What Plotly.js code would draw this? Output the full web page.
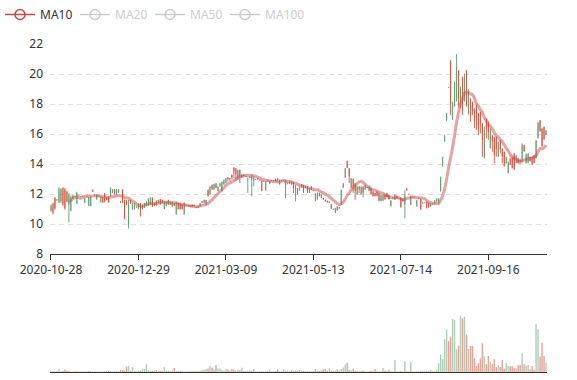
<!DOCTYPE html>
<html>
<head>
<meta charset="utf-8">
<script src="https://cdn.plot.ly/plotly-3.0.1.min.js"></script>
<style>html,body{margin:0;padding:0;background:#fff;}#chart{width:577px;height:380px;}</style>
</head>
<body>
<div id="chart"></div>
<script>
const dates = [
"2020-10-28","2020-10-29","2020-10-30",
"2020-11-02","2020-11-03","2020-11-04","2020-11-05","2020-11-06","2020-11-09","2020-11-10","2020-11-11","2020-11-12","2020-11-13",
"2020-11-16","2020-11-17","2020-11-18","2020-11-19","2020-11-20","2020-11-23","2020-11-24","2020-11-25","2020-11-26","2020-11-27","2020-11-30",
"2020-12-01","2020-12-02","2020-12-03","2020-12-04","2020-12-07","2020-12-08","2020-12-09","2020-12-10","2020-12-11",
"2020-12-14","2020-12-15","2020-12-16","2020-12-17","2020-12-18","2020-12-21","2020-12-22","2020-12-23","2020-12-24","2020-12-25",
"2020-12-28","2020-12-29","2020-12-30","2020-12-31",
"2021-01-04","2021-01-05","2021-01-06","2021-01-07","2021-01-08","2021-01-11","2021-01-12","2021-01-13","2021-01-14","2021-01-15",
"2021-01-18","2021-01-19","2021-01-20","2021-01-21","2021-01-22","2021-01-25","2021-01-26","2021-01-27","2021-01-28","2021-01-29",
"2021-02-01","2021-02-02","2021-02-03","2021-02-04","2021-02-05","2021-02-08","2021-02-09","2021-02-10","2021-02-18","2021-02-19",
"2021-02-22","2021-02-23","2021-02-24","2021-02-25","2021-02-26",
"2021-03-01","2021-03-02","2021-03-03","2021-03-04","2021-03-05","2021-03-08","2021-03-09","2021-03-10","2021-03-11","2021-03-12",
"2021-03-15","2021-03-16","2021-03-17","2021-03-18","2021-03-19","2021-03-22","2021-03-23","2021-03-24","2021-03-25","2021-03-26",
"2021-03-29","2021-03-30","2021-03-31","2021-04-01","2021-04-02",
"2021-04-05","2021-04-06","2021-04-07","2021-04-08","2021-04-09","2021-04-12","2021-04-13","2021-04-14","2021-04-15","2021-04-16",
"2021-04-19","2021-04-20","2021-04-21","2021-04-22","2021-04-23","2021-04-26","2021-04-27","2021-04-28","2021-04-29","2021-04-30",
"2021-05-06","2021-05-07","2021-05-10","2021-05-11","2021-05-12","2021-05-13","2021-05-14",
"2021-05-17","2021-05-18","2021-05-19","2021-05-20","2021-05-21","2021-05-24","2021-05-25","2021-05-26","2021-05-27","2021-05-28","2021-05-31",
"2021-06-01","2021-06-02","2021-06-03","2021-06-04","2021-06-07","2021-06-08","2021-06-09","2021-06-10","2021-06-11",
"2021-06-14","2021-06-15","2021-06-16","2021-06-17","2021-06-18","2021-06-21","2021-06-22","2021-06-23","2021-06-24","2021-06-25",
"2021-06-28","2021-06-29","2021-06-30","2021-07-01","2021-07-02",
"2021-07-05","2021-07-06","2021-07-07","2021-07-08","2021-07-09","2021-07-12","2021-07-13","2021-07-14","2021-07-15","2021-07-16",
"2021-07-19","2021-07-20","2021-07-21","2021-07-22","2021-07-23","2021-07-26","2021-07-27","2021-07-28","2021-07-29","2021-07-30",
"2021-08-02","2021-08-03","2021-08-04","2021-08-05","2021-08-06","2021-08-09","2021-08-10","2021-08-11","2021-08-12","2021-08-13",
"2021-08-16","2021-08-17","2021-08-18","2021-08-19","2021-08-20","2021-08-23","2021-08-24","2021-08-25","2021-08-26","2021-08-27",
"2021-08-30","2021-08-31","2021-09-01","2021-09-02","2021-09-03",
"2021-09-06","2021-09-07","2021-09-08","2021-09-09","2021-09-10","2021-09-15","2021-09-16","2021-09-17",
"2021-09-22","2021-09-23","2021-09-24","2021-09-27","2021-09-28","2021-09-29","2021-09-30",
"2021-10-08","2021-10-11","2021-10-12","2021-10-13","2021-10-14","2021-10-15",
"2021-10-18","2021-10-19","2021-10-20","2021-10-21","2021-10-22","2021-10-25","2021-10-26","2021-10-27","2021-10-28","2021-10-29",
"2021-11-01","2021-11-02","2021-11-03","2021-11-04","2021-11-05"
];

const tickLabels = ["2020-10-28","2020-12-29","2021-03-09","2021-05-13","2021-07-14","2021-09-16"];

const openPrices = [
10.9,11.35,11.72,11.62,11.45,11.5,12.4,12.3,12.15,11.3,
10.9,11.7,11.85,11.4,11.9,11.8,11.88,11.42,11.8,11.22,
11.2,12.28,11.95,11.64,11.9,11.46,11.78,12.05,11.78,11.82,
11.86,12.08,12.3,11.98,12.08,11.5,12.3,11.6,11.55,9.9,
11.6,10.98,11.0,11.08,11.02,11.38,10.98,11.08,11.2,11.24,
11.3,11.75,11.2,11.55,11.42,11.65,11.6,11.02,11.2,11.6,
11.3,11.15,11.38,10.65,11.38,11.38,11.3,10.65,11.25,11.18,
11.22,11.28,11.27,11.12,11.08,11.2,11.5,11.42,11.3,12.27,
11.98,12.6,12.3,12.7,12.2,12.5,12.2,12.64,12.75,13.1,
13.05,13.27,13.75,13.7,12.98,13.6,13.08,13.28,13.2,12.95,
13.18,12.95,12.9,13.0,13.06,12.95,12.87,12.85,12.25,12.86,
12.68,12.92,12.86,13.0,13.05,12.64,12.9,12.86,12.94,12.7,
12.68,12.82,12.78,12.2,12.38,12.24,12.42,12.6,12.41,12.49,
12.08,12.5,12.25,11.53,11.64,12.06,11.95,11.72,11.6,11.55,
11.41,11.32,11.0,10.75,11.17,11.05,11.3,12.42,13.1,14.2,
13.7,12.42,13.0,12.7,11.98,12.5,11.98,12.5,12.3,12.45,
12.2,12.38,12.16,12.06,12.16,12.05,11.53,11.56,11.94,12.05,
11.94,11.2,11.75,11.62,11.88,11.7,11.74,11.7,11.3,12.37,
12.0,11.3,11.85,11.8,11.18,11.7,11.65,11.4,11.42,11.47,
11.42,11.17,11.35,11.39,11.5,11.4,12.2,13.85,15.5,16.9,
19.13,20.9,16.95,17.85,18.2,20.2,17.75,19.8,18.2,20.2,
17.35,18.35,18.1,17.7,17.9,17.35,17.45,16.7,14.4,17.0,
16.8,15.06,15.9,15.8,15.8,14.5,15.58,15.0,14.8,14.06,
13.4,14.36,14.47,14.7,14.06,14.36,14.3,14.18,15.25,14.06,
14.08,14.47,14.47,14.58,14.4,15.73,16.9,16.35,16.47,15.95
];
const highPrices = [
11.3,11.42,11.8,11.65,12.45,12.4,12.45,12.4,12.22,12.07,
11.9,11.96,11.88,12.16,11.92,11.86,11.9,11.73,11.85,11.8,
11.84,12.29,11.98,11.96,11.92,11.84,11.8,12.07,11.8,11.84,
12.44,12.33,12.33,12.33,12.33,11.52,12.33,11.62,11.6,11.6,
11.62,11.4,11.4,11.18,11.4,11.4,11.29,11.4,11.51,11.73,
11.78,11.78,11.4,11.56,11.62,11.67,11.62,11.51,11.51,11.62,
11.51,11.51,11.4,11.44,11.4,11.4,11.33,11.44,11.28,11.25,
11.24,11.29,11.29,11.15,11.18,11.4,11.51,11.62,11.62,12.29,
12.51,12.62,12.69,12.73,12.51,12.73,12.84,12.96,13.07,13.13,
13.07,13.29,13.78,13.73,13.62,13.62,13.33,13.29,13.22,13.11,
13.18,13.29,13.18,13.02,13.07,12.97,12.89,12.88,12.84,12.9,
12.89,12.93,12.92,13.02,13.07,12.96,12.92,12.9,12.96,12.75,
12.84,12.84,12.8,12.62,12.4,12.51,12.67,12.62,12.51,12.51,
12.4,12.51,12.27,12.07,12.11,12.07,11.96,11.73,11.62,11.56,
11.51,11.33,11.02,11.07,11.18,11.15,12.29,12.73,13.73,14.22,
13.73,13.07,13.02,12.73,12.51,12.51,12.51,12.51,12.62,12.48,
12.51,12.4,12.18,12.07,12.18,12.07,11.96,11.96,11.96,12.07,
11.96,11.6,11.8,11.98,11.89,11.72,11.76,11.71,12.27,12.38,
12.02,11.89,11.88,11.84,11.6,11.75,11.67,11.45,11.46,11.49,
11.44,11.38,11.38,11.6,11.71,11.71,13.16,14.47,15.9,17.38,
19.13,20.93,18.16,19.49,21.33,20.27,19.16,19.82,20.04,20.27,
19.0,18.38,18.16,17.71,17.93,17.38,17.49,16.71,16.49,17.04,
16.82,16.38,15.93,15.82,15.82,15.49,15.6,15.04,14.82,14.49,
14.16,14.38,14.49,14.71,14.6,14.38,14.35,15.38,15.27,14.71,
14.71,14.49,14.49,14.6,15.6,16.82,16.93,16.38,16.49,16.27
];
const lowPrices = [
10.82,10.65,10.95,11.55,11.4,11.4,11.22,10.95,11.44,10.1,
10.84,11.67,11.8,11.33,11.85,11.78,11.82,11.4,11.78,11.2,
11.18,12.13,11.9,11.62,11.85,11.44,11.4,11.44,11.58,11.4,
11.84,12.07,11.96,11.96,12.07,11.4,11.4,10.3,11.25,9.7,
11.33,10.96,10.95,11.06,11.0,10.5,10.96,11.06,11.18,11.22,
11.28,11.13,11.18,11.22,11.4,11.29,11.4,11.0,11.18,11.29,
11.29,11.13,11.18,10.62,10.96,10.96,10.96,10.62,11.2,11.16,
11.15,11.13,11.18,11.08,11.07,11.18,11.4,11.4,11.29,11.84,
11.96,12.29,12.29,12.4,12.18,12.5,12.18,12.62,12.73,12.84,
12.84,12.96,13.07,12.84,12.96,12.73,13.07,13.18,13.15,12.07,
13.07,11.84,12.51,12.95,12.96,12.9,12.18,12.8,12.22,12.84,
12.67,12.88,12.85,12.84,12.84,12.62,12.85,12.84,11.73,12.65,
12.67,12.62,12.07,11.51,11.96,12.22,12.4,12.07,12.4,12.07,
12.07,12.29,12.2,11.51,11.62,11.84,11.73,11.62,11.5,11.44,
11.4,11.0,10.95,10.73,10.89,11.0,11.29,12.4,13.07,13.73,
12.73,12.4,12.07,11.62,11.96,12.07,11.96,11.78,12.29,12.4,
12.18,11.96,11.84,11.84,11.84,11.51,11.51,11.55,11.62,11.78,
11.62,11.16,11.7,11.6,11.71,11.65,11.09,11.49,10.38,12.22,
11.95,11.27,11.8,11.76,11.16,11.68,10.93,11.35,11.38,11.04,
11.09,11.16,11.3,11.38,11.49,11.38,12.16,13.82,15.49,16.89,
19.1,17.27,16.93,17.82,18.16,17.82,17.71,17.27,18.16,17.82,
17.3,16.82,17.27,16.38,16.27,15.93,16.04,14.49,14.38,15.71,
15.6,15.04,14.82,14.04,14.49,14.49,14.71,14.04,13.82,14.04,
13.38,13.93,13.71,13.6,14.04,14.04,14.1,14.16,14.82,14.04,
14.04,14.16,13.93,14.04,14.38,15.71,16.16,15.16,15.6,15.93
];
const closePrices = [
11.22,10.75,11.05,11.6,12.35,12.3,11.3,11.05,11.5,11.95,
11.8,11.9,11.82,12.1,11.87,11.84,11.84,11.7,11.83,11.75,
11.8,12.15,11.93,11.93,11.88,11.8,11.42,11.5,11.6,11.45,
12.4,12.3,12.0,12.3,12.3,11.42,11.45,10.4,11.35,11.3,
11.35,11.35,11.3,11.15,11.35,10.95,11.25,11.38,11.48,11.7,
11.75,11.2,11.38,11.25,11.6,11.32,11.42,11.48,11.48,11.32,
11.48,11.48,11.2,11.4,11.0,11.0,11.0,11.4,11.22,11.23,
11.17,11.15,11.2,11.1,11.16,11.38,11.42,11.6,11.6,11.87,
12.48,12.31,12.66,12.42,12.48,12.7,12.8,12.93,13.04,13.0,
13.0,13.1,13.5,13.3,13.58,13.2,13.3,13.2,13.17,13.05,
13.08,13.15,13.1,12.97,12.97,12.92,12.22,12.86,12.8,12.88,
12.87,12.89,12.91,12.86,12.86,12.93,12.87,12.88,12.6,12.68,
12.82,12.64,12.4,12.55,12.0,12.48,12.64,12.1,12.5,12.1,
12.38,12.3,12.22,12.0,12.08,11.86,11.75,11.63,11.52,11.45,
11.5,11.03,10.97,11.05,10.91,11.12,12.25,12.7,13.7,13.75,
13.2,13.03,12.5,12.2,12.48,12.3,12.48,12.1,12.6,12.42,
12.48,12.0,11.86,11.86,11.88,11.56,11.92,11.92,11.65,11.8,
11.66,11.55,11.72,11.95,11.73,11.68,11.12,11.5,11.9,12.24,
11.97,11.85,11.82,11.82,11.57,11.72,10.98,11.38,11.44,11.08,
11.12,11.36,11.32,11.58,11.68,11.7,13.12,14.45,15.9,17.38,
19.1,18.0,18.1,19.4,20.5,18.3,19.0,17.6,19.9,18.0,
18.9,17.2,17.5,17.0,16.9,16.6,16.7,15.6,16.3,16.3,
16.1,16.3,15.5,14.6,15.0,15.45,15.0,14.5,13.88,14.45,
14.1,13.96,13.75,13.65,14.55,14.06,14.15,15.3,14.85,14.65,
14.68,14.2,13.98,14.08,15.55,16.75,16.2,15.2,15.65,16.2
];
const volumes = [
0.5,0.6,0.5,0.8,3,0.8,1.0,2.6,1.3,1.0,
0.6,0.5,0.4,0.8,0.5,0.4,0.6,0.5,0.4,1.0,
0.8,0.5,0.4,0.6,0.5,0.4,0.5,0.6,0.8,1.0,
0.8,0.6,0.5,0.7,0.6,2,2,1.2,5.2,5.9,
1.2,4.9,1.0,0.8,1.2,1.5,2.6,3,7.8,2,
1.2,1.0,1.3,2,1.0,1.2,1.0,4.9,1.5,1.3,
1.0,1.2,3.9,1.0,0.8,1.0,0.7,0.6,0.5,0.6,
0.8,0.6,0.7,0.8,1.0,1.3,1.8,2.3,3.0,3.6,
5.9,4.2,2.6,6.9,3.6,3.6,2.0,1.3,3.0,2.6,
1.3,3.0,2.3,1.3,2.6,2.0,4.2,1.0,0.8,1.3,
1.3,1.3,3.0,0.5,0.6,0.4,0.8,0.5,0.6,0.8,
2.3,0.6,0.5,0.8,2.6,0.8,0.6,2.6,1.0,0.7,
0.8,1.6,1.2,1.5,1.0,2.0,1.2,1.0,0.8,0.6,
0.8,0.6,1.0,3.0,1.2,1.0,1.5,2.6,3.0,1.2,
3.6,1.5,1.0,1.2,2.6,1.5,3.0,4.6,7.5,9.2,
2.0,1.8,3.3,1.3,1.0,0.8,1.0,1.2,0.8,0.6,
0.7,1.0,0.8,3.0,0.8,0.6,0.8,3.9,1.2,0.8,
2.0,0.7,0.5,11.8,0.6,0.5,1.0,0.6,10.8,0.8,
0.6,10.1,0.5,0.6,0.8,0.6,1.0,0.8,0.8,0.8,
0.8,2.0,0.6,1.0,2.3,8.7,17.7,13,32.7,42.7,
31,35.3,53,52,22.7,26.3,56.3,53.7,55.3,37.7,
23,26,26,13.7,6,8.7,13.7,28.7,16,7.7,
16,10.3,8,12.7,5,7,5,12,3.3,8.7,
6,6,5.7,4.3,3.7,7,7,18.7,7.7,6.3,
7,2.7,6,2,47.7,42.7,15.3,29.3,16,9.3
];

const UP = '#5f9f74', DOWN = '#d6553f';
const UP_VOL = 'rgba(95,159,116,0.5)', DOWN_VOL = 'rgba(214,85,63,0.55)';

function movingAverage(n) {
  const out = [];
  for (let i = 0; i < closePrices.length; i++) {
    if (i < n - 1) { out.push(null); continue; }
    let s = 0;
    for (let j = i - n + 1; j <= i; j++) s += closePrices[j];
    out.push(+(s / n).toFixed(3));
  }
  return out;
}

const volColors = closePrices.map((c, i) => c >= openPrices[i] ? UP_VOL : DOWN_VOL);
const grey = '#9a9a9a';
function legendOnly(n) {
  return {
    type: 'scatter', mode: 'lines+markers', x: dates, y: movingAverage(n), xaxis: 'x', yaxis: 'y',
    name: '<span style="color:' + grey + '">MA' + n + '</span>', visible: 'legendonly',
    line: {color: grey, width: 1.5}, marker: {symbol: 'circle-open', size: 10, color: grey, line: {width: 1.5}}
  };
}

const traces = [
  {
    type: 'candlestick', x: dates, open: openPrices, high: highPrices, low: lowPrices, close: closePrices,
    xaxis: 'x', yaxis: 'y', showlegend: false, hoverinfo: 'skip', whiskerwidth: 0,
    increasing: {line: {color: UP, width: 0.9}, fillcolor: UP},
    decreasing: {line: {color: DOWN, width: 0.9}, fillcolor: DOWN}
  },
  {
    type: 'scatter', mode: 'lines', x: dates, y: movingAverage(10), xaxis: 'x', yaxis: 'y',
    line: {color: 'rgba(208,70,70,0.5)', width: 3, shape: 'spline', smoothing: 1},
    showlegend: false, hoverinfo: 'skip', connectgaps: false
  },
  {
    type: 'scatter', mode: 'lines+markers', x: [null], y: [null], xaxis: 'x', yaxis: 'y', name: 'MA10',
    line: {color: '#cf4545', width: 1.5}, marker: {symbol: 'circle-open', size: 10, color: '#cf4545', line: {width: 1.5}}
  },
  legendOnly(20),
  legendOnly(50),
  legendOnly(100),
  {
    type: 'scatter', mode: 'none', x: [null], y: [null], xaxis: 'x', yaxis: 'y', name: '\u00a0', hoverinfo: 'skip'
  },
  {
    type: 'bar', x: dates, y: volumes, xaxis: 'x2', yaxis: 'y2', showlegend: false, hoverinfo: 'skip',
    marker: {color: volColors, line: {width: 0}}
  }
];

const layout = {
  width: 577, height: 380,
  margin: {l: 50, r: 30, t: 0, b: 0, autoexpand: false},
  paper_bgcolor: '#fff', plot_bgcolor: '#fff',
  font: {family: '"Noto Sans", "Open Sans", sans-serif', size: 12, color: '#333'},
  showlegend: true,
  legend: {
    orientation: 'h', xref: 'container', yref: 'container', x: 0, y: 1, xanchor: 'left', yanchor: 'top',
    font: {size: 12, color: '#333'}, entrywidth: 30, bgcolor: 'rgba(0,0,0,0)', itemclick: false, itemdoubleclick: false
  },
  boxgap: 0.9,
  bargap: 0.28,
  xaxis: {
    type: 'category', domain: [0, 1], anchor: 'y', range: [-0.5, dates.length - 0.5],
    tickmode: 'array', tickvals: tickLabels, ticktext: tickLabels,
    showgrid: false, showline: true, linecolor: '#333', linewidth: 1,
    ticks: 'outside', ticklen: 5, tickcolor: '#333', tickfont: {size: 12, color: '#333'},
    rangeslider: {visible: false}, zeroline: false, fixedrange: true
  },
  yaxis: {
    domain: [126 / 380, 336 / 380], range: [8, 22], dtick: 2, tick0: 8,
    showgrid: true, gridcolor: '#e0e0e0', griddash: '5px,4px', gridwidth: 1,
    zeroline: false, showline: false, ticks: '', ticklabelstandoff: 6,
    tickfont: {size: 12, color: '#333'}, fixedrange: true
  },
  xaxis2: {
    type: 'category', domain: [0, 1], anchor: 'y2', range: [-0.5, dates.length - 0.5],
    showticklabels: false, showgrid: false, showline: true, linecolor: '#333', linewidth: 1,
    ticks: '', zeroline: false, fixedrange: true
  },
  yaxis2: {
    domain: [8 / 380, 68 / 380], range: [0, 60],
    showticklabels: false, showgrid: false, zeroline: false, showline: false, ticks: '', fixedrange: true
  }
};

Plotly.newPlot('chart', traces, layout, {displayModeBar: false, staticPlot: true});
</script>
</body>
</html>
